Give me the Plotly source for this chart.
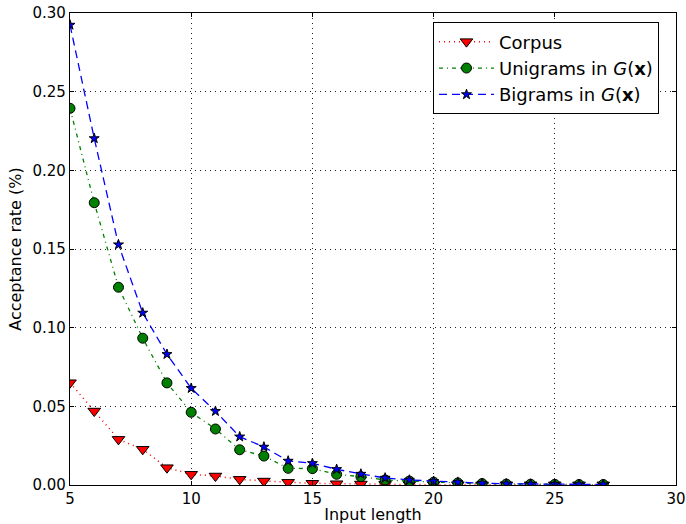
import plotly.graph_objects as go

# Input lengths and acceptance rates for each source
input_length = list(range(5, 28))

corpus = [0.065, 0.047, 0.029, 0.0227, 0.011, 0.0068, 0.0057, 0.0036, 0.0025, 0.0017,
          0.0011, 0.0008, 0.0006, 0.0004, 0.0003, 0.0002, 0.0002, 0.0001, 0.0001,
          0.0001, 0.0001, 0.0001, 0.0001]
unigrams = [0.2394, 0.1794, 0.1257, 0.0933, 0.0649, 0.0462, 0.0356, 0.0224, 0.0184,
            0.0106, 0.0104, 0.0068, 0.0053, 0.0032, 0.0025, 0.0018, 0.0013, 0.0009,
            0.0006, 0.0005, 0.0004, 0.0003, 0.0003]
bigrams = [0.2924, 0.2203, 0.1528, 0.1094, 0.0831, 0.0615, 0.0469, 0.0307, 0.0242,
           0.0153, 0.0138, 0.0100, 0.0070, 0.0045, 0.0032, 0.0024, 0.0018, 0.0011,
           0.0008, 0.0006, 0.0005, 0.0004, 0.0003]

x_ticks = [5, 10, 15, 20, 25, 30]
y_ticks = [0.00, 0.05, 0.10, 0.15, 0.20, 0.25, 0.30]

FONT = "DejaVu Sans"

fig = go.Figure()

fig.add_trace(go.Scatter(
    x=input_length, y=corpus, name="Corpus", mode="lines+markers",
    line=dict(color="red", dash="1px,4px", width=1.5),
    marker=dict(symbol="triangle-down", size=11, color="red",
                line=dict(color="black", width=1)),
))
fig.add_trace(go.Scatter(
    x=input_length, y=unigrams, name="Unigrams in <i>G</i>(<b>x</b>)",
    mode="lines+markers",
    line=dict(color="green", dash="4px,4px,1px,4px", width=1.3),
    marker=dict(symbol="circle", size=10, color="green",
                line=dict(color="black", width=1)),
))
fig.add_trace(go.Scatter(
    x=input_length, y=bigrams, name="Bigrams in <i>G</i>(<b>x</b>)",
    mode="lines+markers",
    line=dict(color="blue", dash="8px,5px", width=1.3),
    marker=dict(symbol="star", size=7.5, color="blue",
                line=dict(color="black", width=1)),
))

axis_common = dict(
    showline=True, linecolor="black", linewidth=1.2, mirror="ticks",
    ticks="inside", ticklen=4, tickcolor="black", tickwidth=1,
    showgrid=True, gridcolor="#222222", gridwidth=1, griddash="1px,4px",
    zeroline=False,
    tickfont=dict(family=FONT, size=15, color="black"),
    automargin=False,
)

fig.update_xaxes(
    range=[5, 30], tickvals=x_ticks, ticktext=[str(v) for v in x_ticks],
    title=dict(text="Input length", font=dict(family=FONT, size=16, color="black"),
               standoff=6),
    **axis_common,
)
fig.update_yaxes(
    range=[0, 0.30], tickvals=y_ticks, ticktext=[f"{v:.2f}" for v in y_ticks],
    title=dict(text="Acceptance rate (%)", font=dict(family=FONT, size=16, color="black"),
               standoff=6),
    **axis_common,
)

fig.update_layout(
    width=686, height=524,
    margin=dict(l=70, r=10, t=13, b=39),
    paper_bgcolor="white", plot_bgcolor="white",
    font=dict(family=FONT, color="black"),
    legend=dict(
        x=0.599, y=0.98, xanchor="left", yanchor="top",
        bgcolor="white", bordercolor="black", borderwidth=1,
        font=dict(family=FONT, size=18, color="black"),
        itemwidth=55,
    ),
    showlegend=True,
)

fig.write_html("out.html")
